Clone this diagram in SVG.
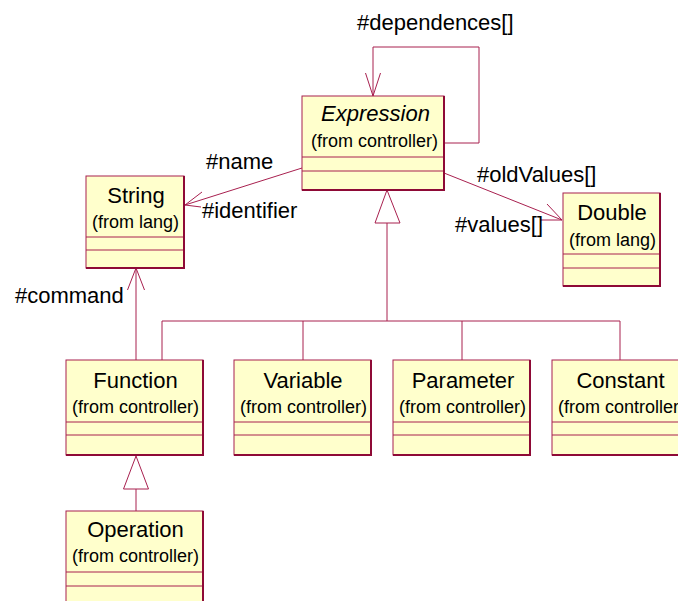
<svg xmlns="http://www.w3.org/2000/svg" width="678" height="601" viewBox="0 0 678 601">
  <style>
    .box { fill: #FFFFCC; stroke: #A8204F; stroke-width: 1; }
    .sep { stroke: #A8204F; stroke-width: 1; fill: none; }
    .shade { stroke: #8E0A36; stroke-width: 2; fill: none; }
    .title { font-family: "Liberation Sans", Arial, sans-serif; font-size: 22px; fill: #000; text-anchor: middle; }
    .sub { font-family: "Liberation Sans", Arial, sans-serif; font-size: 18px; fill: #000; text-anchor: middle; }
    .lbl { font-family: "Liberation Sans", Arial, sans-serif; font-size: 22px; fill: #000; }
    .edge { stroke: #A8204F; stroke-width: 1; fill: none; }
    .gen { stroke: #A8204F; stroke-width: 1; fill: #FFFFFF; }
  </style>
  <rect width="678" height="601" fill="#FFFFFF"/>

  <!-- connectors -->
  <g id="connectors">
    <!-- self association on Expression -->
    <polyline class="edge" points="444,143 479,143 479,47 373,47 373,96"/>
    <polyline class="edge" points="365.5,73 373,96 380.5,73"/>
    <!-- Expression to String -->
    <line class="edge" x1="302" y1="168" x2="185" y2="205"/>
    <polyline class="edge" points="202,192 185,205 201,207"/>
    <!-- Expression to Double -->
    <line class="edge" x1="444" y1="173" x2="562" y2="220"/>
    <polyline class="edge" points="547,204 562,220 540,220"/>
    <!-- Function to String -->
    <line class="edge" x1="136" y1="360" x2="136" y2="268"/>
    <polyline class="edge" points="127.5,290 136,268 144.5,290"/>
    <!-- generalization to Expression -->
    <polygon class="gen" points="387,190 375,223 400,223"/>
    <line class="edge" x1="387" y1="223" x2="387" y2="321"/>
    <line class="edge" x1="162" y1="321" x2="620" y2="321"/>
    <line class="edge" x1="162" y1="321" x2="162" y2="360"/>
    <line class="edge" x1="303" y1="321" x2="303" y2="360"/>
    <line class="edge" x1="462" y1="321" x2="462" y2="360"/>
    <line class="edge" x1="620" y1="321" x2="620" y2="360"/>
    <!-- generalization Operation to Function -->
    <polygon class="gen" points="136,456 123.5,489 148.5,489"/>
    <line class="edge" x1="136" y1="489" x2="136" y2="511"/>

    <!-- role labels -->
    <text class="lbl" x="357" y="30">#dependences[]</text>
    <text class="lbl" x="206" y="169">#name</text>
    <text class="lbl" x="202" y="218">#identifier</text>
    <text class="lbl" x="477" y="182">#oldValues[]</text>
    <text class="lbl" x="455" y="232">#values[]</text>
    <text class="lbl" x="15" y="303">#command</text>
  </g>

  <g id="Expression">
    <rect class="box" x="302" y="96" width="142" height="94"/>
    <path class="sep" d="M302,157 H444 M302,171 H444"/>
    <path class="shade" d="M444,96 V190 H302"/>
    <text class="title" x="375.5" y="121" font-style="italic">Expression</text>
    <text class="sub" x="374.5" y="147">(from controller)</text>
  </g>

  <g id="String">
    <rect class="box" x="86" y="176" width="98" height="92"/>
    <path class="sep" d="M86,237 H184 M86,250 H184"/>
    <path class="shade" d="M184,176 V268 H86"/>
    <text class="title" x="136" y="203">String</text>
    <text class="sub" x="135.5" y="228">(from lang)</text>
  </g>

  <g id="Double">
    <rect class="box" x="563" y="193" width="97" height="93"/>
    <path class="sep" d="M563,254 H660 M563,268 H660"/>
    <path class="shade" d="M660,193 V286 H563"/>
    <text class="title" x="612" y="220">Double</text>
    <text class="sub" x="612.5" y="246">(from lang)</text>
  </g>

  <g id="Function">
    <rect class="box" x="66" y="360" width="137" height="95"/>
    <path class="sep" d="M66,422 H203 M66,435 H203"/>
    <path class="shade" d="M203,360 V455 H66"/>
    <text class="title" x="135.5" y="388">Function</text>
    <text class="sub" x="135.5" y="413">(from controller)</text>
  </g>

  <g id="Variable">
    <rect class="box" x="234" y="360" width="137" height="95"/>
    <path class="sep" d="M234,422 H371 M234,435 H371"/>
    <path class="shade" d="M371,360 V455 H234"/>
    <text class="title" x="303" y="388">Variable</text>
    <text class="sub" x="303.5" y="413">(from controller)</text>
  </g>

  <g id="Parameter">
    <rect class="box" x="393" y="360" width="137" height="95"/>
    <path class="sep" d="M393,422 H530 M393,435 H530"/>
    <path class="shade" d="M530,360 V455 H393"/>
    <text class="title" x="463" y="388">Parameter</text>
    <text class="sub" x="462.5" y="413">(from controller)</text>
  </g>

  <g id="Constant">
    <rect class="box" x="552" y="360" width="137" height="95"/>
    <path class="sep" d="M552,422 H689 M552,435 H689"/>
    <path class="shade" d="M689,360 V455 H552"/>
    <text class="title" x="620.5" y="388">Constant</text>
    <text class="sub" x="621.5" y="413">(from controller)</text>
  </g>

  <g id="Operation">
    <rect class="box" x="66" y="511" width="137" height="95"/>
    <path class="sep" d="M66,572 H203 M66,586 H203"/>
    <path class="shade" d="M203,511 V606 H66"/>
    <text class="title" x="135.5" y="537">Operation</text>
    <text class="sub" x="135.5" y="562">(from controller)</text>
  </g>
</svg>
